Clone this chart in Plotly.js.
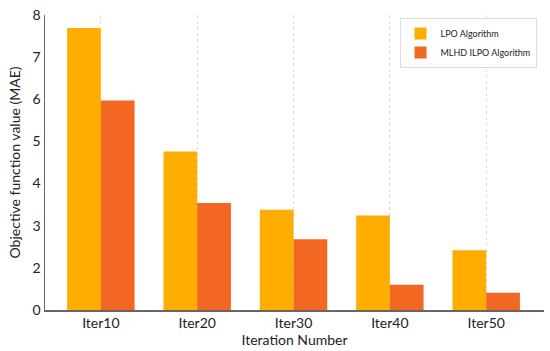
<!DOCTYPE html>
<html>
<head>
<meta charset="utf-8">
<script src="https://cdn.plot.ly/plotly-3.0.1.min.js"></script>
<style>html,body{margin:0;padding:0;background:#fff;}#chart{width:550px;height:351px;}</style>
</head>
<body>
<div id="chart"></div>
<script>
const categories = ["Iter10", "Iter20", "Iter30", "Iter40", "Iter50"];
const lpoValues = [7.69, 4.76, 3.38, 3.24, 2.42];
const mlhdValues = [5.97, 3.54, 2.68, 1.60, 1.41];
const seriesNames = ["LPO Algorithm", "MLHD ILPO Algorithm"];
const yTickVals = [1, 2, 3, 4, 5, 6, 7, 8];
const yTickText = ["0", "2", "3", "4", "5", "6", "7", "8"];

const font = "Lato, 'Open Sans', sans-serif";
const traces = [
  {type: "bar", name: seriesNames[0], x: categories, y: lpoValues, marker: {color: "#FFAD00"}},
  {type: "bar", name: seriesNames[1], x: categories, y: mlhdValues, marker: {color: "#F26722"}}
];
const layout = {
  width: 550, height: 351,
  margin: {l: 45, r: 6, t: 15, b: 41},
  barmode: "group", bargap: 0.3, bargroupgap: 0,
  paper_bgcolor: "#fff", plot_bgcolor: "#fff",
  font: {family: font, color: "#222"},
  xaxis: {
    range: [-0.58, 4.6],
    showline: true, linecolor: "#666", linewidth: 1.5,
    showgrid: true, gridcolor: "#ddd", griddash: "dot", gridwidth: 1,
    ticks: "", tickfont: {size: 14, color: "#222"},
    title: {text: "Iteration Number", font: {size: 14, color: "#222"}, standoff: 4},
    zeroline: false
  },
  yaxis: {
    range: [1, 8],
    tickvals: yTickVals, ticktext: yTickText,
    showline: true, linecolor: "#666", linewidth: 1.5,
    showgrid: false, zeroline: false,
    ticks: "", tickfont: {size: 14, color: "#222"},
    title: {text: "Objective function value (MAE)", font: {size: 14, color: "#222"}, standoff: 8}
  },
  legend: {
    x: 0.985, xanchor: "right", y: 0.99, yanchor: "top",
    bordercolor: "#ddd", borderwidth: 1, bgcolor: "#fff",
    font: {size: 9, color: "#222"},
    itemwidth: 30, tracegroupgap: 0
  },
  showlegend: true
};
Plotly.newPlot("chart", traces, layout, {displayModeBar: false, staticPlot: true});
</script>
</body>
</html>
